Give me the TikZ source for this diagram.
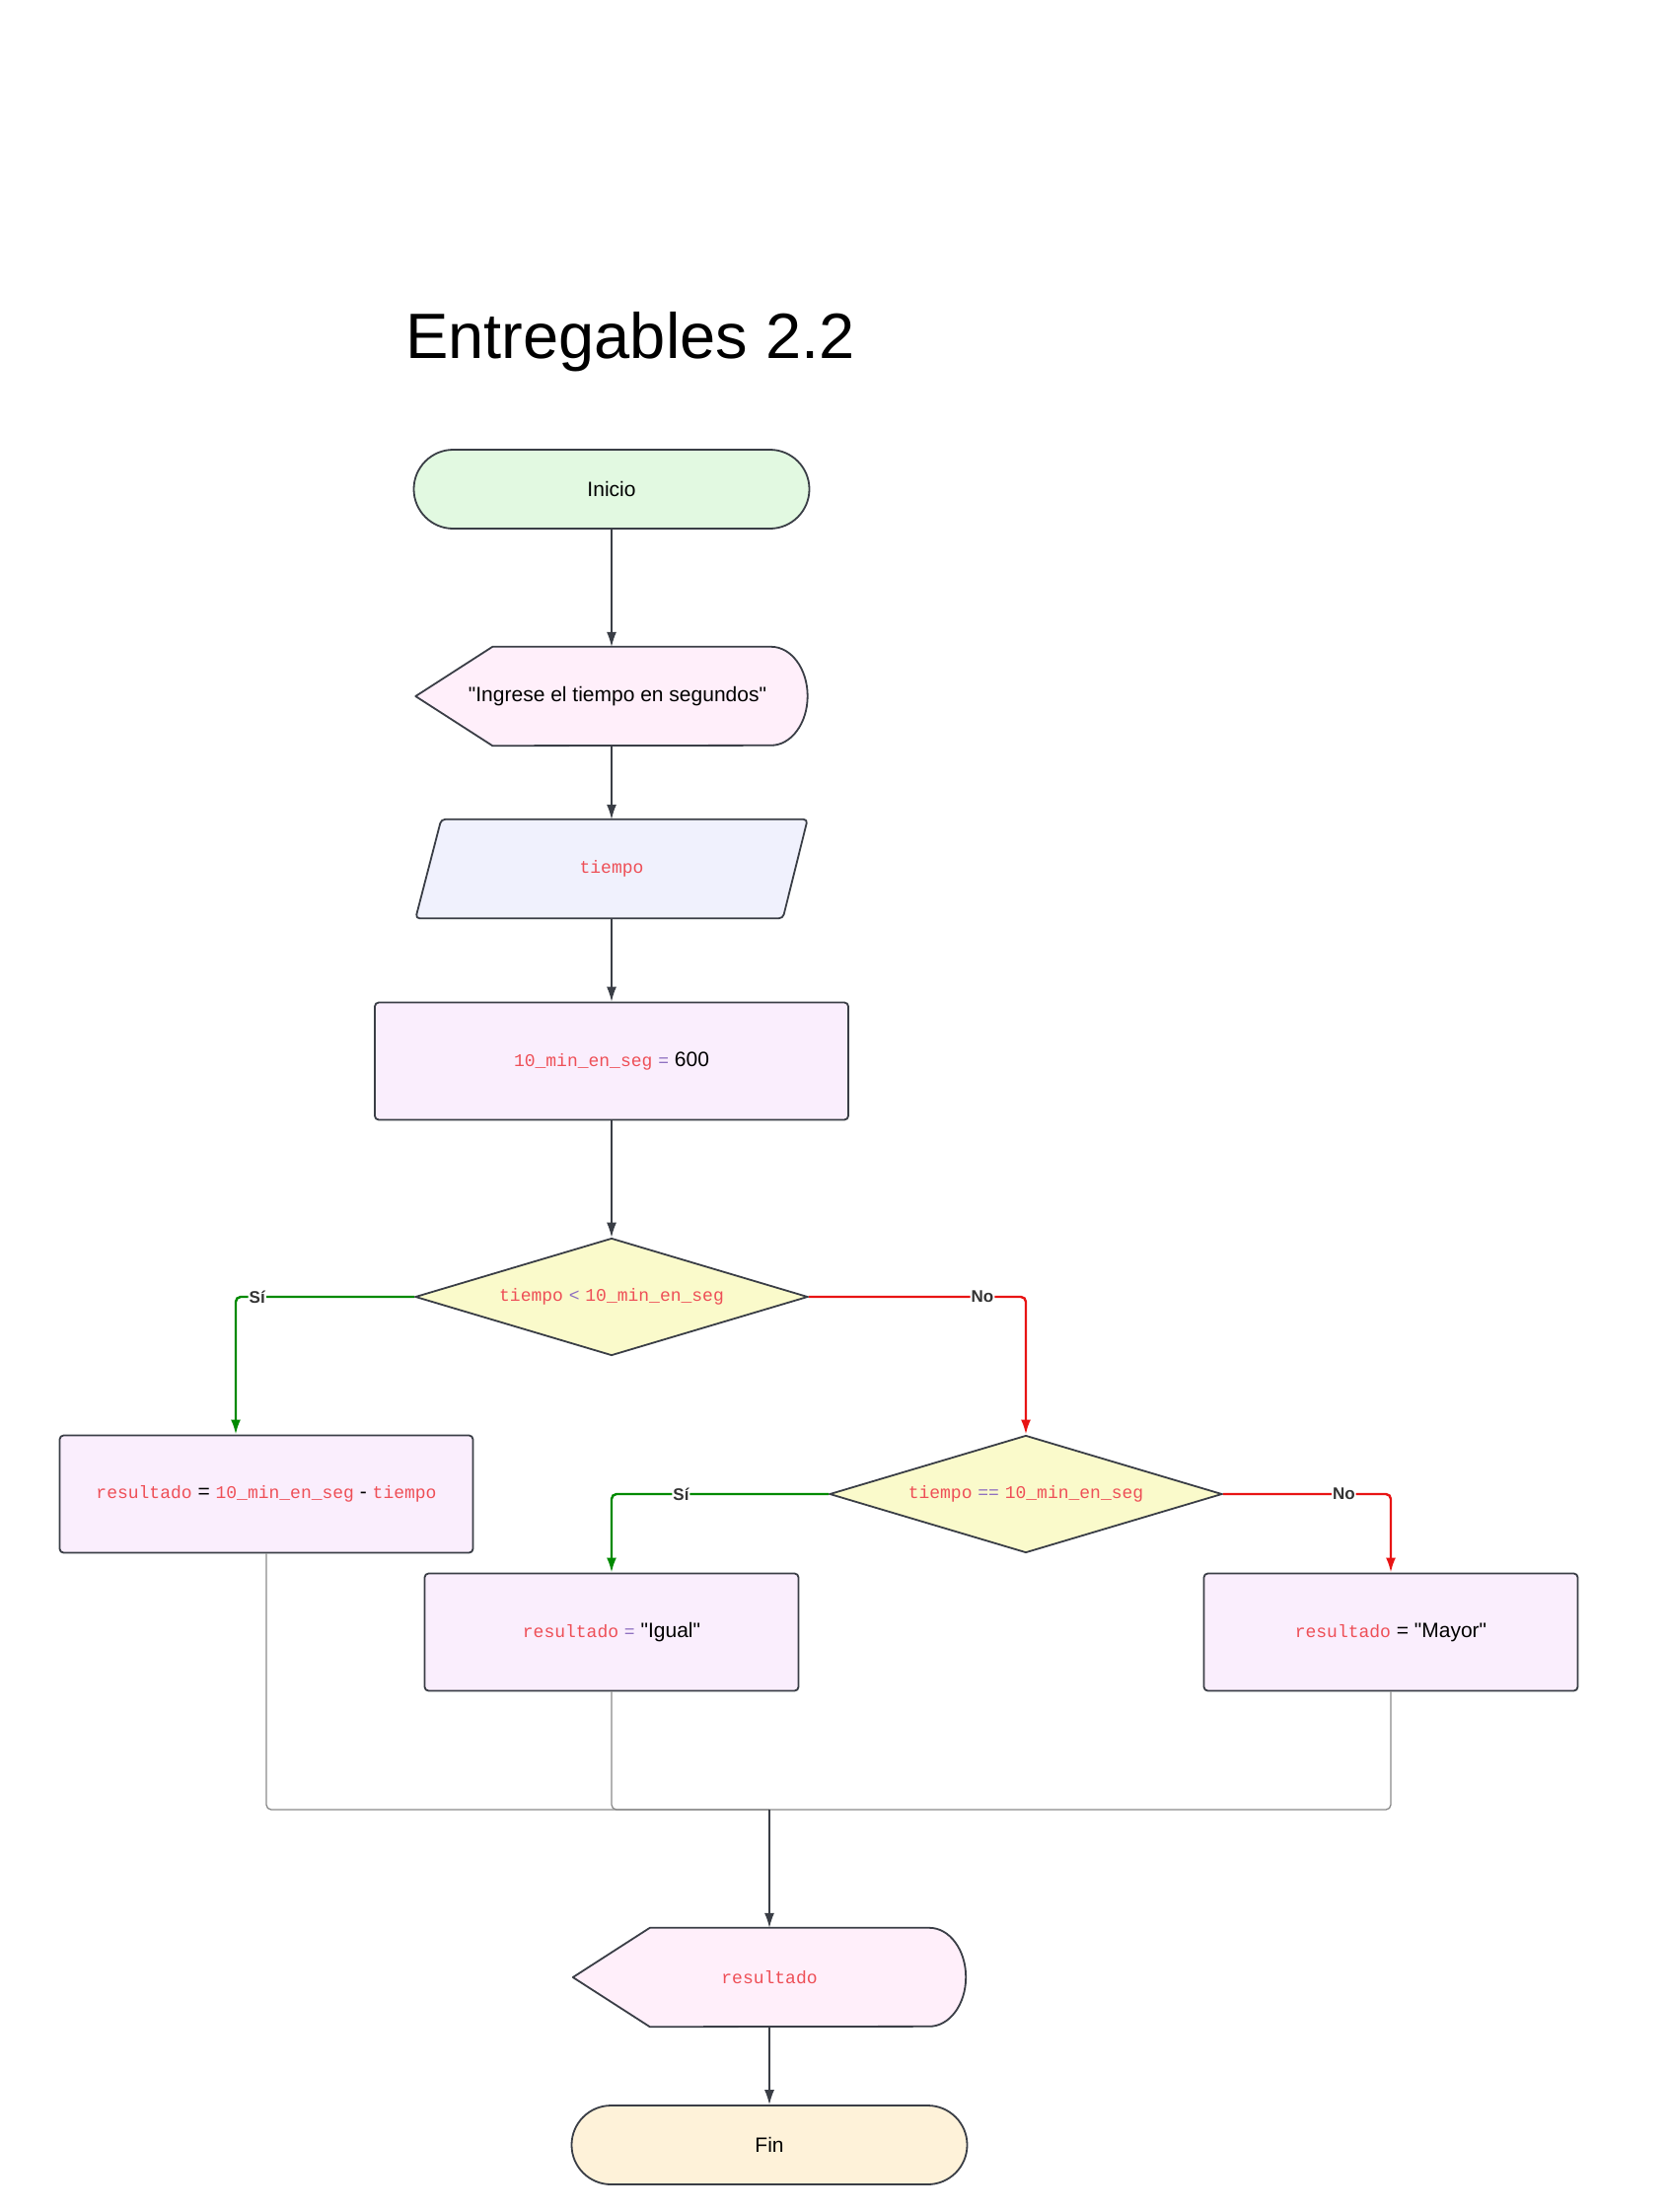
\documentclass[tikz,border=0pt]{standalone}
\usepackage{fontspec}
\setmainfont{Liberation Sans}[Ligatures=TeXOff]
\setmonofont{Liberation Mono}
\usepackage{tikz}
\usetikzlibrary{shapes, arrows.meta, backgrounds, calc}

\definecolor{borde}{HTML}{3A3E46}
\definecolor{iniciofill}{HTML}{E2F9E1}
\definecolor{dispfill}{HTML}{FFEFFA}
\definecolor{infill}{HTML}{F0F1FD}
\definecolor{procfill}{HTML}{FAEEFD}
\definecolor{decfill}{HTML}{FAFACB}
\definecolor{finfill}{HTML}{FEF2D9}
\definecolor{codered}{HTML}{EE4F57}
\definecolor{oppurple}{HTML}{8E6FC0}
\definecolor{sigreen}{HTML}{008A00}
\definecolor{nored}{HTML}{E81414}
\definecolor{mergegray}{HTML}{8A8A8A}
\definecolor{labelgray}{HTML}{333333}

\tikzstyle{terminal} = [ rectangle, draw=borde, line width=1.8pt, rounded corners=40pt, minimum width=401pt, minimum height=80pt ]
\tikzstyle{process} = [ rectangle, draw=borde, fill=procfill, line width=1.8pt, rounded corners=4pt, minimum height=119pt ]
\tikzstyle{decision} = [ diamond, aspect=3.34, draw=borde, fill=decfill, line width=1.8pt, minimum width=398pt, minimum height=119pt, inner sep=0pt ]
\tikzstyle{textonly} = [ minimum width=397pt, minimum height=100pt, inner sep=0pt ]
\tikzstyle{outline} = [ draw=borde, line width=1.8pt, line join=round ]
\tikzstyle{line} = [ draw=borde, line width=1.4pt, -{Latex[length=15pt,width=10pt]} ]
\tikzstyle{yesline} = [ draw=sigreen, line width=2.4pt, rounded corners=5pt, -{Latex[length=15pt,width=10pt]} ]
\tikzstyle{noline} = [ draw=nored, line width=2.4pt, rounded corners=5pt, -{Latex[length=15pt,width=10pt]} ]
\tikzstyle{merge} = [ draw=mergegray, line width=1.3pt, rounded corners=5pt ]
\tikzstyle{answer} = [ fill=white, inner sep=1pt, text=labelgray, font=\bfseries\fontsize{17}{20}\selectfont ]

\newcommand{\codevar}[1]{{\ttfamily\fontsize{18}{22}\selectfont\color{codered}#1}}
\newcommand{\codeop}[1]{{\ttfamily\fontsize{18}{22}\selectfont\color{oppurple}#1}}

% outlines drawn behind the text nodes
\newcommand{\displayshape}[1]{%
  \begin{scope}[on background layer]
    \filldraw[outline, fill=dispfill] (#1.west) -- ($(#1.north west)+(78pt,0pt)$) -- ($(#1.north east)+(-37pt,0pt)$)
      arc[start angle=90, end angle=-90, x radius=37pt, y radius=50pt] -- ($(#1.south west)+(78pt,0pt)$) -- cycle;
  \end{scope}}
\newcommand{\inputshape}[1]{%
  \begin{scope}[on background layer]
    \filldraw[outline, fill=infill, rounded corners=4pt] ($(#1.north west)+(26pt,0pt)$) -- (#1.north east)
      -- ($(#1.south east)+(-25pt,0pt)$) -- (#1.south west) -- cycle;
  \end{scope}}

\begin{document}
\begin{tikzpicture}[x=1pt, y=-1pt, font=\fontsize{21}{25}\selectfont]
\useasboundingbox (0,0) rectangle (1689,2243);

\node (titulo) at (639,347) {\fontsize{65}{75}\selectfont Entregables 2.2};

% main column
\node [terminal, fill=iniciofill] (inicio) at (620,496) {Inicio};
\node [textonly, below of=inicio, node distance=210pt] (ingrese) {\hspace{12pt}"Ingrese el tiempo en segundos"};
\node [textonly, below of=ingrese, node distance=175pt] (tiempo) {\codevar{tiempo}};
\node [process, minimum width=480pt, below of=tiempo, node distance=195pt] (asignar) {\codevar{10\_min\_en\_seg} \codeop{=} 600};
\node [decision, below of=asignar, node distance=239pt] (cond1) {\codevar{tiempo} \codeop{<} \codevar{10\_min\_en\_seg}};
\displayshape{ingrese}
\inputshape{tiempo}

% branches
\node [process, minimum width=419pt] (resta) at (270,1515) {\codevar{resultado} = \codevar{10\_min\_en\_seg} - \codevar{tiempo}};
\node [decision] (cond2) at (1040,1515) {\codevar{tiempo} \codeop{==} \codevar{10\_min\_en\_seg}};
\node [process, minimum width=379pt] (igual) at (620,1655) {\codevar{resultado} \codeop{=} "Igual"};
\node [process, minimum width=379pt] (mayor) at (1410,1655) {\codevar{resultado} = "Mayor"};

\coordinate (union) at (780,1835);
\coordinate (restain) at ($(resta.north)+(-31pt,0pt)$);
\node [textonly, minimum width=398pt] (salida) at (780,2005) {\codevar{resultado}};
\displayshape{salida}
\node [terminal, fill=finfill, below of=salida, node distance=170pt] (fin) {Fin};

\path [line] (inicio) -- (ingrese);
\path [line] (ingrese) -- (tiempo);
\path [line] (tiempo) -- (asignar);
\path [line] (asignar) -- (cond1);
\path [yesline] (cond1.west) -| node[answer, pos=0.44] {Sí} (restain);
\path [noline] (cond1.east) -| node[answer, pos=0.40] {No} (cond2.north);
\path [yesline] (cond2.west) -| node[answer, pos=0.34] {Sí} (igual.north);
\path [noline] (cond2.east) -| node[answer, pos=0.36] {No} (mayor.north);
\path [merge] (resta.south) |- (union);
\path [merge] (igual.south) |- (union);
\path [merge] (mayor.south) |- (union);
\path [line] (union) -- (salida);
\path [line] (salida) -- (fin);
\end{tikzpicture}
\end{document}
